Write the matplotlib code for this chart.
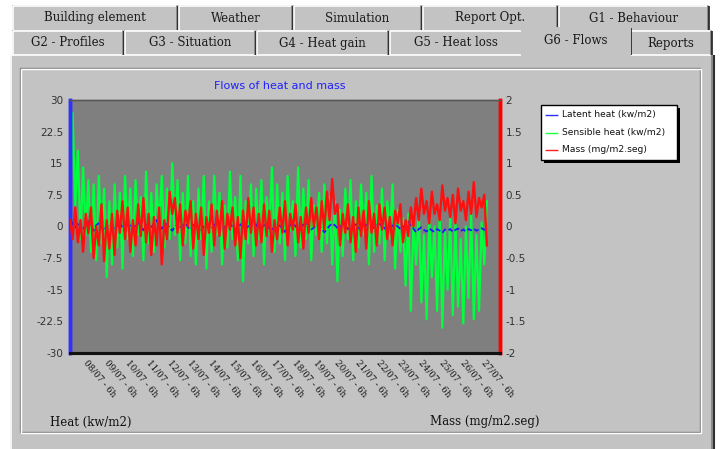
import numpy as np
import matplotlib
matplotlib.use("Agg")
import matplotlib.pyplot as plt
from matplotlib.patches import Rectangle

# ---------------- data ----------------
sensible_heat = [2, 27, 5, 18, -3, 14, -2, 11,
                 -6, 10, -8, 12, -4, 9, -12, 6,
                 -9, 10, -5, 8, -10, 12, -3, 9,
                 -7, 11, -2, 7, -8, 13, -4, 8,
                 -6, 10, 0, 12, -5, 9, -3, 15,
                 -2, 11, -8, 8, -4, 12, -7, 6,
                 -9, 9, -3, 12, -10, 6, -6, 12,
                 -2, 8, -9, 5, -5, 13, -3, 7,
                 -8, 12, -13, 6, -4, 10, -7, 9,
                 -3, 11, -9, 7, -2, 14, -6, 10,
                 -4, 8, -8, 12, -1, 6, -7, 14,
                 -5, 9, -3, 11, -8, 5, -2, 8,
                 -6, 10, -4, 7, -9, 6, -13, 4,
                 -7, 9, -3, 11, -8, 6, -5, 10,
                 -2, 8, -9, 12, -6, 5, -4, 9,
                 -8, 6, -3, 10, -10, 4, -6, 2,
                 -14, 3, -20, 1, -9, 4, -18, -2,
                 -22, 2, -12, 0, -20, 3, -24, -1,
                 -15, 2, -21, 1, -19, -3, -23, 0,
                 -17, 3, -22, -2, -20, 1, -9, 6]

mass_flow = [0.1, -0.2, 0.3, -0.25, 0.1, -0.4, 0.2, -0.1,
             0.3, -0.5, 0.0, -0.3, 0.35, -0.55, 0.1, -0.35,
             0.2, -0.45, 0.25, -0.1, 0.4, -0.2, 0.3, -0.4,
             0.1, -0.3, 0.35, -0.15, 0.45, -0.25, 0.2, -0.45,
             0.15, -0.3, 0.3, -0.6, 0.1, -0.2, 0.55, 0.2,
             0.45, -0.1, 0.35, -0.3, 0.25, 0.0, 0.4, -0.35,
             0.2, -0.2, 0.3, -0.45, 0.15, -0.1, 0.35, -0.3,
             0.25, -0.15, 0.4, -0.35, 0.2, -0.05, 0.3, -0.3,
             0.15, -0.5, 0.25, -0.2, 0.45, -0.1, 0.3, -0.3,
             0.2, -0.25, 0.35, -0.15, 0.25, -0.4, 0.1, -0.2,
             0.3, -0.1, 0.4, -0.3, 0.2, -0.05, 0.35, -0.25,
             0.15, -0.35, 0.3, -0.1, 0.45, 0.0, 0.3, -0.2,
             0.4, -0.05, 0.55, 0.1, 0.75, 0.2, 0.35, -0.3,
             0.2, -0.1, 0.35, -0.25, 0.15, -0.4, 0.3, -0.15,
             0.25, -0.35, 0.4, -0.1, 0.2, -0.3, 0.35, -0.05,
             0.3, -0.2, 0.15, -0.3, 0.25, 0.05, 0.35, -0.25,
             0.1, -0.15, 0.3, 0.0, 0.45, 0.1, 0.6, 0.2,
             0.4, 0.05, 0.55, 0.2, 0.35, 0.1, 0.65, 0.25,
             0.45, 0.15, 0.5, 0.05, 0.6, 0.25, 0.4, 0.1,
             0.55, 0.2, 0.7, 0.15, 0.45, 0.3, 0.5, -0.3]

latent_heat = [3, 0.5, -0.5, 1, 0, -0.8, 0.5, 1.2, 0, -1, 0.3, 0.8, -0.2, -1, 0.2, 0.6,
               0, -0.8, 0.4, 1, -0.3, -1.2, 0.5, 0.2, -0.6, 0.3, 1, 0, -0.9, 0.2, 0.5, -0.4,
               0.8, 1.5, 0.3, -0.5, 0.2, 0.6, -0.3, -1, 0, 0.4, -0.6, 0.2, 0.8, -0.2, -0.7, 0.3,
               0.5, -0.4, -1.2, 0.1, 0.6, 0, -0.5, 0.3, 0.9, 0.2, -0.6, -0.2, 0.4, 0.8, -0.1, -0.9,
               -0.3, 0.5, 0.2, -0.6, 0.1, 0.7, 1.5, 0.4, -0.5, -0.2, 0.3, 0.6, -0.4, -0.9, 0, 0.5,
               0.2, -0.5, -1.3, -0.4, 0.3, 0.8, 0.1, -0.6, -0.2, 0.4, 0.9, 0.2, -0.7, -0.3, 0.5, 0.1,
               -0.5, -1.4, -0.6, 0.2, 0.7, 0.3, -0.4, -0.1, 0.6, 0.2, -0.6, -0.2, 0.3, 0.5, -0.3, -0.8,
               0.1, 0.4, 0, -0.5, -0.2, 0.3, 0.6, 0.1, -0.4, -0.9, -0.3, 0.2, 0.5, 0, -0.6, -0.2,
               0.4, 1.2, 0.2, -0.5, -1.4, -0.6, -0.2, -0.8, -1.2, -0.5, -0.9, -1.3, -0.6, -1, -1.5, -0.7,
               -1, -0.6, -1.3, -0.8, -0.5, -1.1, -0.7, -1.2, -0.6, -0.9, -0.5, -1, -0.7, -0.4, -0.8, -0.3]

x_labels = ["08/07 - 6h", "09/07 - 6h", "10/07 - 6h", "11/07 - 6h", "12/07 - 6h",
            "13/07 - 6h", "14/07 - 6h", "15/07 - 6h", "16/07 - 6h", "17/07 - 6h",
            "18/07 - 6h", "19/07 - 6h", "20/07 - 6h", "21/07 - 6h", "22/07 - 6h",
            "23/07 - 6h", "24/07 - 6h", "25/07 - 6h", "26/07 - 6h", "27/07 - 6h"]

heat_ticks = [30, 22.5, 15, 7.5, 0, -7.5, -15, -22.5, -30]
heat_tick_labels = ["30", "22.5", "15", "7.5", "0", "-7.5", "-15", "-22.5", "-30"]
mass_ticks = [2, 1.5, 1, 0.5, 0, -0.5, -1, -1.5, -2]
mass_tick_labels = ["2", "1.5", "1", "0.5", "0", "-0.5", "-1", "-1.5", "-2"]

tabs_row1 = ["Building element", "Weather", "Simulation", "Report Opt.", "G1 - Behaviour"]
tabs_row2 = ["G2 - Profiles", "G3 - Situation", "G4 - Heat gain", "G5 - Heat loss", "G6 - Flows", "Reports"]
legend_labels = ["Latent heat (kw/m2)", "Sensible heat (kw/m2)", "Mass (mg/m2.seg)"]

# ---------------- figure ----------------
W, H = 722, 449
fig = plt.figure(figsize=(W / 100, H / 100), dpi=100, facecolor="white")

GRAY = "#c3c3c3"
DARK = "#808080"

bg = fig.add_axes([0, 0, 1, 1])
bg.set_xlim(0, W)
bg.set_ylim(H, 0)
bg.axis("off")

def hline(x0, x1, y, c, lw=1.0):
    bg.plot([x0, x1], [y, y], color=c, lw=lw, solid_capstyle="butt")

def vline(x, y0, y1, c, lw=1.0):
    bg.plot([x, x], [y0, y1], color=c, lw=lw, solid_capstyle="butt")

# panel
bg.add_patch(Rectangle((10, 54), 704, 395, facecolor=GRAY, edgecolor="none"))
hline(10, 714, 55, "white", 1.2)
vline(11, 55, 449, "white", 1.2)
vline(712, 55, 449, DARK, 1.2)
vline(713.5, 55, 449, "#303030", 1.5)

def tab(x0, x1, y0, y1, text):
    bg.add_patch(Rectangle((x0, y0), x1 - x0, y1 - y0, facecolor=GRAY, edgecolor="none"))
    hline(x0 + 1, x1 - 2, y0 + 0.5, "white", 1.2)
    vline(x0 + 0.5, y0 + 1, y1, "white", 1.2)
    vline(x1 - 1.5, y0 + 1, y1, DARK, 1.2)
    vline(x1 - 0.5, y0 + 1, y1, "#202020", 1.2)
    bg.text((x0 + x1) / 2, (y0 + y1) / 2 + 0.5, text, ha="center", va="center",
            fontsize=8.5, family="DejaVu Serif", color="#1a1a1a")

b1 = [12, 178, 293, 422, 558, 709]
for i, t in enumerate(tabs_row1):
    tab(b1[i], b1[i + 1], 5, 30, t)
b2 = [12, 124, 256, 389, 523, 629, 712]
for i, t in enumerate(tabs_row2):
    if t == "G6 - Flows":
        continue
    tab(b2[i], b2[i + 1], 30, 55, t)
# active tab
ia = tabs_row2.index("G6 - Flows")
xa0, xa1 = b2[ia] - 2, b2[ia + 1] + 2
bg.add_patch(Rectangle((xa0, 27), xa1 - xa0, 30, facecolor=GRAY, edgecolor="none", zorder=3))
hline(xa0 + 1, xa1 - 2, 27.5, "white", 1.2)
vline(xa0 + 0.5, 28, 56, "white", 1.2)
vline(xa1 - 1.5, 28, 55, DARK, 1.2)
vline(xa1 - 0.5, 28, 55, "#202020", 1.2)
bg.text((xa0 + xa1) / 2, 41, "G6 - Flows", ha="center", va="center",
        fontsize=8.5, family="DejaVu Serif", color="#1a1a1a", zorder=4)

# etched inner frame
bg.add_patch(Rectangle((20, 68), 680, 364, facecolor="none", edgecolor=DARK, lw=1.0))
bg.add_patch(Rectangle((21, 69), 680, 364, facecolor="none", edgecolor="white", lw=1.0))

# title
bg.text(280, 86, "Flows of heat and mass", ha="center", va="center",
        fontsize=8, color="#2020ff", family="DejaVu Sans")

# axis labels
bg.text(50, 422, "Heat (kw/m2)", ha="left", va="center", fontsize=8.5,
        family="DejaVu Serif", color="#111111")
bg.text(540, 422, "Mass (mg/m2.seg)", ha="right", va="center", fontsize=8.5,
        family="DejaVu Serif", color="#111111")

# legend (manual)
bg.add_patch(Rectangle((544, 108), 136, 55, facecolor="black", edgecolor="none"))
bg.add_patch(Rectangle((541, 105), 136, 55, facecolor="white", edgecolor="black", lw=1))
leg_colors = ["#3030ff", "#20ff40", "#ff2020"]
for k, (lab, c) in enumerate(zip(legend_labels, leg_colors)):
    yy = 115 + k * 17.5
    hline(545, 558, yy, c, 1.0)
    bg.text(562, yy, lab, ha="left", va="center", fontsize=6.6,
            family="DejaVu Sans", color="#111111")

# ---------------- chart ----------------
L, R, T, B = 70, 500, 100, 353
ax = fig.add_axes([L / W, 1 - B / H, (R - L) / W, (B - T) / H])
ax.set_facecolor("#7f7f7f")
x = np.arange(len(sensible_heat))
ax.plot(x, sensible_heat, color="#00ff3c", lw=1.6, zorder=2)
ax.plot(x, latent_heat, color="#1a1aff", lw=1.3, zorder=3, linestyle=(0, (3, 1.5)))
ax.set_xlim(0, 164)
ax.set_ylim(-30, 30)
ax.set_yticks(heat_ticks)
ax.set_yticklabels(heat_tick_labels)
ax.tick_params(axis="y", length=0, pad=5, labelsize=7.5, labelcolor="#333333")
tick_pos = [7 + 8 * k for k in range(len(x_labels))]
ax.set_xticks(tick_pos)
ax.set_xticklabels(x_labels, rotation=-50, ha="left", va="top",
                   rotation_mode="anchor", fontsize=6.3, family="DejaVu Serif",
                   color="#111111")
ax.tick_params(axis="x", length=0, pad=4)

ax2 = ax.twinx()
ax2.plot(x, mass_flow, color="#ff1010", lw=1.7, zorder=4)
ax2.set_ylim(-2, 2)
ax2.set_yticks(mass_ticks)
ax2.set_yticklabels(mass_tick_labels)
ax2.tick_params(axis="y", length=0, pad=4, labelsize=7.5, labelcolor="#333333")

for a in (ax, ax2):
    a.spines["left"].set_color("#3030ff")
    a.spines["left"].set_linewidth(2.5)
    a.spines["right"].set_color("#ff0000")
    a.spines["right"].set_linewidth(2.5)
    a.spines["bottom"].set_color("#111111")
    a.spines["bottom"].set_linewidth(2.2)
    a.spines["top"].set_color("#5a5a5a")
    a.spines["top"].set_linewidth(1.0)

fig.savefig("out.png", dpi=100, facecolor="white")
